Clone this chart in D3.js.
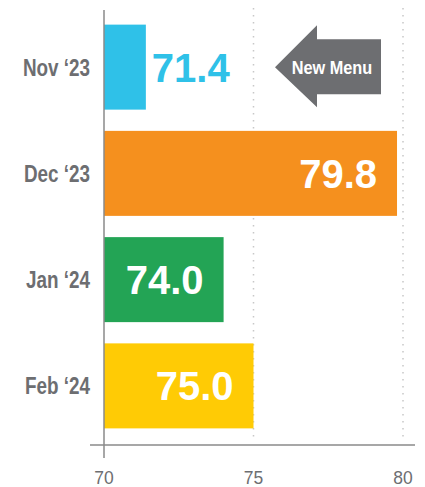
<!DOCTYPE html>
<html>
<head>
<meta charset="utf-8">
<script src="https://cdn.jsdelivr.net/npm/d3@7"></script>
<style>
  body { margin: 0; background: #fff; }
  svg { display: block; }
</style>
</head>
<body>
<div id="chart"></div>
<script>
// months and scores
var months = ["Nov \u201823", "Dec \u201823", "Jan \u201824", "Feb \u201824"];
var scores = [71.4, 79.8, 74.0, 75.0];
var barColors = ["#2fc1e8", "#f5901e", "#23a455", "#ffcb05"];
var tickValues = [70, 75, 80];

var width = 425, height = 487;
var sans = "'Liberation Sans', Arial, Helvetica, sans-serif";

var svg = d3.select("#chart")
  .append("svg")
    .attr("width", width)
    .attr("height", height);

var x = d3.scaleLinear()
  .domain([70, 80])
  .range([104, 403]);

var y = d3.scaleBand()
  .domain(months)
  .range([14, 439])
  .paddingInner(0.2)
  .paddingOuter(0.1);

// squeeze text horizontally, the original uses a condensed face
function condense(sel, f) {
  sel.each(function(){
    var len = this.getComputedTextLength();
    d3.select(this).attr("textLength", len * f).attr("lengthAdjust", "spacingAndGlyphs");
  });
}

// dotted grid lines
svg.selectAll(".grid")
  .data(tickValues.slice(1))
  .enter().append("line")
    .attr("class", "grid")
    .attr("x1", function(d){ return x(d); })
    .attr("x2", function(d){ return x(d); })
    .attr("y1", 8)
    .attr("y2", 440)
    .attr("stroke", "#c8c8c8")
    .attr("stroke-width", 1.5)
    .attr("stroke-dasharray", "1.5,5.5");

// bars
var data = months.map(function(m, i){ return {month: m, value: scores[i], color: barColors[i]}; });

svg.selectAll(".bar")
  .data(data)
  .enter().append("rect")
    .attr("class", "bar")
    .attr("x", x(70))
    .attr("y", function(d){ return y(d.month); })
    .attr("width", function(d){ return x(d.value) - x(70); })
    .attr("height", y.bandwidth())
    .attr("fill", function(d){ return d.color; });

// value labels - inside the bar unless it is too short
svg.selectAll(".val")
  .data(data)
  .enter().append("text")
    .attr("class", "val")
    .attr("x", function(d){ return d.value < 73 ? x(d.value) + 6 : x(d.value) - 20; })
    .attr("y", function(d){ return y(d.month) + y.bandwidth() / 2 + 14.5; })
    .attr("text-anchor", function(d){ return d.value < 73 ? "start" : "end"; })
    .attr("fill", function(d){ return d.value < 73 ? d.color : "#fff"; })
    .style("font-family", sans)
    .style("font-weight", "bold")
    .style("font-size", "40px")
    .text(function(d){ return d.value.toFixed(1); });

// category labels
svg.selectAll(".cat")
  .data(months)
  .enter().append("text")
    .attr("class", "cat")
    .attr("x", 90)
    .attr("y", function(d){ return y(d) + y.bandwidth() / 2 + 8.5; })
    .attr("text-anchor", "end")
    .attr("fill", "#6d6e71")
    .style("font-family", sans)
    .style("font-weight", "bold")
    .style("font-size", "23px")
    .text(function(d){ return d; })
    .call(condense, 0.82);

// axes lines
svg.append("line")
  .attr("x1", x(70)).attr("x2", x(70))
  .attr("y1", 10).attr("y2", 458)
  .attr("stroke", "#8a8a8a").attr("stroke-width", 1.5);

svg.append("line")
  .attr("x1", 90).attr("x2", 415)
  .attr("y1", 445).attr("y2", 445)
  .attr("stroke", "#8a8a8a").attr("stroke-width", 1.5);

// x tick labels
svg.selectAll(".tick-label")
  .data(tickValues)
  .enter().append("text")
    .attr("class", "tick-label")
    .attr("x", function(d){ return x(d); })
    .attr("y", 484)
    .attr("text-anchor", "middle")
    .attr("fill", "#6d6e71")
    .style("font-family", sans)
    .style("font-size", "19px")
    .text(function(d){ return d; })
    .call(condense, 0.92);

// "New Menu" arrow callout
var ay = y(months[0]) + y.bandwidth() / 2;
var arrow = [[275, ay], [317, ay - 42], [317, ay - 28], [381, ay - 28],
             [381, ay + 27], [317, ay + 27], [317, ay + 40]];
svg.append("polygon")
  .attr("points", arrow.map(function(p){ return p.join(","); }).join(" "))
  .attr("fill", "#6d6e71");

svg.append("text")
  .attr("x", 332)
  .attr("y", ay + 6.5)
  .attr("text-anchor", "middle")
  .attr("fill", "#fff")
  .style("font-family", sans)
  .style("font-weight", "bold")
  .style("font-size", "18.5px")
  .text("New Menu")
  .call(condense, 0.88);
</script>
</body>
</html>
